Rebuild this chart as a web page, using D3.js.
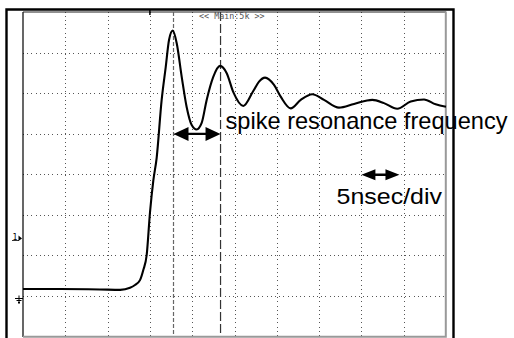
<!DOCTYPE html>
<html>
<head>
<meta charset="utf-8">
<script src="https://cdn.jsdelivr.net/npm/d3@7"></script>
<style>
html,body{margin:0;padding:0;background:#fff;}
svg{display:block;}
</style>
</head>
<body>
<svg id="chart" width="514" height="338"></svg>
<script>
// ---- data (time in ns, amplitude in divisions from screen centre) ----
const timeNs = [0, 4.4, 9.1, 11.5, 12.65, 13.24, 13.83, 14.22, 14.62, 15.01, 15.40, 15.80, 16.39, 16.87, 17.26, 17.70, 18.17, 18.76, 19.35, 19.94, 20.53, 21.12, 21.71, 22.49, 23.29, 24.08, 24.86, 26.04, 27.22, 27.90, 28.61, 29.67, 30.46, 31.64, 32.83, 34.20, 35.58, 37.35, 39.13, 41.29, 42.67, 44.24, 45.83, 47.40, 48.78, 50];
const ampDiv = [-2.84, -2.84, -2.85, -2.86, -2.81, -2.74, -2.62, -2.37, -2.0, -0.95, -0.17, 0.40, 1.83, 2.64, 3.31, 3.54, 3.23, 2.40, 1.65, 1.21, 1.10, 1.26, 1.83, 2.40, 2.67, 2.49, 2.02, 1.68, 2.05, 2.28, 2.38, 2.20, 1.91, 1.62, 1.83, 1.97, 1.83, 1.64, 1.73, 1.83, 1.75, 1.61, 1.79, 1.84, 1.72, 1.66];
const xTicks = [0, 5, 10, 15, 20, 25, 30, 35, 40, 45, 50];
const yTicks = [-4, -3, -2, -1, 0, 1, 2, 3, 4];
const cursorTimes = [17.79, 23.35];
const spikeArrow = {t0: 17.79, t1: 23.35, amp: 0.99};
const scaleArrow = {t0: 40.0, t1: 44.5, amp: -0.02};
const headerLabel = "<< Main:5k >>";
const spikeLabel = "spike resonance frequency";
const scaleLabel = "5nsec/div";
const channelLabel = "1";

const svg = d3.select("#chart");
const L = 23, R = 446, T = 12, B = 336;
const x = d3.scaleLinear().domain([0, 50]).range([L, R]);
const y = d3.scaleLinear().domain([-4, 4]).range([B, T]);

// outer frame (open at bottom)
svg.append("path")
  .attr("d", `M6.5,338 V9.5 H453.5 V338`)
  .attr("fill", "none").attr("stroke", "#000").attr("stroke-width", 2.4);

// grid via axes
const gx = svg.append("g").attr("transform", `translate(0,${B})`)
  .call(d3.axisBottom(x).tickValues(xTicks.slice(1, -1)).tickSize(-(B - T)).tickFormat(""));
const gy = svg.append("g").attr("transform", `translate(${L},0)`)
  .call(d3.axisLeft(y).tickValues(yTicks.slice(1, -1)).tickSize(-(R - L)).tickFormat(""));
[gx, gy].forEach(g => {
  g.select(".domain").remove();
  g.selectAll(".tick line").attr("stroke", "#555").attr("stroke-width", 1)
    .attr("stroke-dasharray", "1,3.2").attr("shape-rendering", "crispEdges");
});

// plot border
svg.append("line").attr("x1", L).attr("x2", L).attr("y1", T).attr("y2", B + 1)
  .attr("stroke", "#000").attr("stroke-width", 1.2);
svg.append("line").attr("x1", L).attr("x2", R).attr("y1", T).attr("y2", T)
  .attr("stroke", "#222").attr("stroke-width", 1);
svg.append("path").attr("d", `M${L},${B + 0.8} H${R - 0.2} V${T - 0.5}`)
  .attr("fill", "none").attr("stroke", "#999").attr("stroke-width", 2);

// cursors
svg.selectAll("line.cursor").data(cursorTimes).join("line")
  .attr("class", "cursor")
  .attr("x1", d => x(d)).attr("x2", d => x(d))
  .attr("y1", T).attr("y2", B)
  .attr("stroke", (d, i) => i === 0 ? "#666" : "#333")
  .attr("stroke-width", 1.2)
  .attr("stroke-dasharray", (d, i) => i === 0 ? "4,2" : "9,3");

// header label
svg.append("text").attr("x", 199).attr("y", 19)
  .attr("font-family", "DejaVu Sans Mono, monospace").attr("font-size", 8.4)
  .attr("fill", "#555").text(headerLabel);

// small trigger tick at top
svg.append("line").attr("x1", x(15)).attr("x2", x(15)).attr("y1", 9).attr("y2", 15)
  .attr("stroke", "#000").attr("stroke-width", 1.5);

// channel marker
svg.append("text").attr("x", 12.5).attr("y", 240)
  .attr("font-family", "DejaVu Sans Mono, monospace").attr("font-size", 8)
  .attr("fill", "#000").text(channelLabel);
svg.append("path").attr("d", "M12,240.5 H19").attr("stroke", "#000").attr("stroke-width", 0.8);
svg.append("path").attr("d", "M18.5,235.5 L22,238.5 L18.5,241 Z").attr("fill", "#000");

// ground marker
svg.append("path")
  .attr("d", "M19,295.5 V304 M15,298.5 H23 M16.5,300.5 H21.5 M18,302.5 H20")
  .attr("stroke", "#000").attr("stroke-width", 1).attr("fill", "none");

// waveform
const line = d3.line().x(d => x(d[0])).y(d => y(d[1])).curve(d3.curveMonotoneX);
svg.append("path")
  .datum(timeNs.map((t, i) => [t, ampDiv[i]]))
  .attr("d", line)
  .attr("fill", "none").attr("stroke", "#000").attr("stroke-width", 2.1)
  .attr("stroke-linejoin", "round");

// double arrows
function dblArrow(a, headLen, headHalf, shaft) {
  const x0 = x(a.t0), x1 = x(a.t1), yc = y(a.amp);
  const p = `M${x0},${yc} L${x0 + headLen},${yc - headHalf} L${x0 + headLen},${yc - shaft / 2}` +
    ` L${x1 - headLen},${yc - shaft / 2} L${x1 - headLen},${yc - headHalf} L${x1},${yc}` +
    ` L${x1 - headLen},${yc + headHalf} L${x1 - headLen},${yc + shaft / 2}` +
    ` L${x0 + headLen},${yc + shaft / 2} L${x0 + headLen},${yc + headHalf} Z`;
  svg.append("path").attr("d", p).attr("fill", "#000");
}
dblArrow(spikeArrow, 15, 7, 2.2);
dblArrow(scaleArrow, 14, 5.5, 2.4);

// annotation labels
svg.append("text").attr("x", 225.5).attr("y", 129)
  .attr("font-family", "Liberation Sans, Arial, sans-serif").attr("font-size", 23.6)
  .attr("fill", "#000").text(spikeLabel);
svg.append("text").attr("x", 336.5).attr("y", 204)
  .attr("font-family", "Liberation Sans, Arial, sans-serif").attr("font-size", 22)
  .attr("textLength", 105.5).attr("lengthAdjust", "spacingAndGlyphs")
  .attr("fill", "#000").text(scaleLabel);
</script>
</body>
</html>
